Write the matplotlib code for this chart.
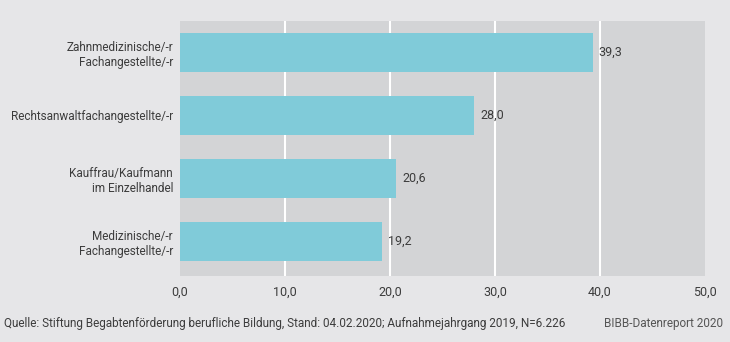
import matplotlib
matplotlib.use("Agg")
import matplotlib.pyplot as plt

categories = [
    "Zahnmedizinische/-r\nFachangestellte/-r",
    "Rechtsanwaltfachangestellte/-r",
    "Kauffrau/Kaufmann\nim Einzelhandel",
    "Medizinische/-r\nFachangestellte/-r",
]
values = [39.3, 28.0, 20.6, 19.2]
xticks = [0, 10, 20, 30, 40, 50]

BG = "#e6e6e8"
PLOT_BG = "#d3d4d6"
BAR = "#80cbd9"
TEXT = "#3c3c3c"

plt.rcParams["font.family"] = ["Roboto", "DejaVu Sans"]
plt.rcParams["font.size"] = 9

fig = plt.figure(figsize=(7.3, 3.42), dpi=100, facecolor=BG)
ax = fig.add_axes([0.2466, 0.193, 0.719, 0.7456])
ax.set_facecolor(PLOT_BG)

ypos = list(range(len(categories)))
ax.barh(ypos, values, height=0.62, color=BAR, zorder=3)
for y, v in zip(ypos, values):
    ax.text(v + 0.6, y, f"{v:.1f}".replace(".", ","), va="center", ha="left",
            color=TEXT, fontsize=9, zorder=4)

# white gridlines only at the inner ticks
for x in xticks[1:-1]:
    ax.axvline(x, color="white", linewidth=1.5, zorder=2)

ax.set_xlim(0, 50)
ax.set_ylim(3.55, -0.5)
ax.set_xticks(xticks)
ax.set_xticklabels([f"{x:.1f}".replace(".", ",") for x in xticks], color=TEXT)
ax.set_yticks(ypos)
ax.set_yticklabels(categories, color=TEXT, linespacing=1.2, fontsize=8.5)
ax.tick_params(axis="y", length=0, pad=5)
ax.tick_params(axis="x", length=0, pad=7)
for s in ax.spines.values():
    s.set_visible(False)

fig.text(0.006, 0.055, "Quelle: Stiftung Begabtenförderung berufliche Bildung, Stand: 04.02.2020; "
         "Aufnahmejahrgang 2019, N=6.226", fontsize=8.5, color=TEXT, va="center")
fig.text(0.99, 0.055, "BIBB-Datenreport 2020", fontsize=8.5, color="#555555",
         va="center", ha="right")

fig.savefig("out.png", dpi=100, facecolor=BG)
